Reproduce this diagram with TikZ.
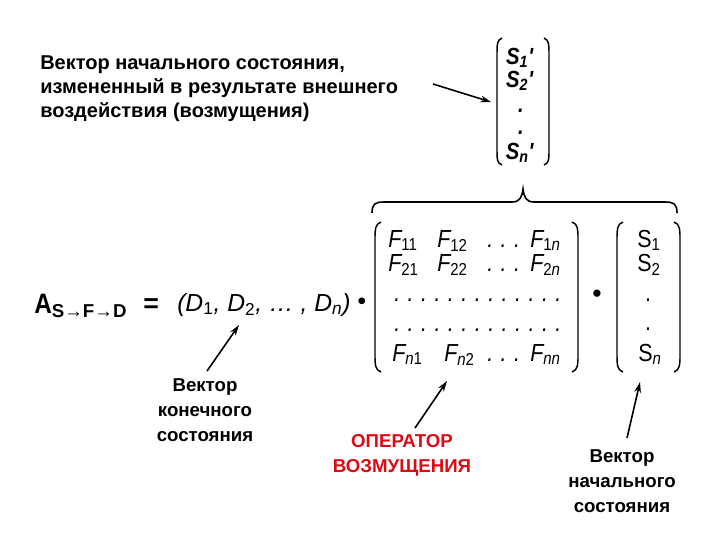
\documentclass[tikz,border=0pt]{standalone}
\usepackage{fontspec}
\setmainfont{Liberation Sans}
\newfontfamily\narrowsf[FakeStretch=0.87]{Liberation Sans}
\usetikzlibrary{arrows.meta,calc}
\definecolor{opred}{RGB}{220,10,20}
\newcommand{\dotrow}[1]{.\foreach \k in {2,...,#1}{\hspace{5.6pt}.}}
\begin{document}
\begin{tikzpicture}[x=0.75pt,y=-0.75pt,
  lbl/.style={font=\fontsize{14}{18.75}\selectfont\bfseries, align=center, inner sep=0pt},
  toplbl/.style={font=\fontsize{15}{18}\selectfont\bfseries, align=left, inner sep=0pt},
  ent/.style={font=\narrowsf\fontsize{18.5}{20}\selectfont\itshape, inner sep=0pt},
  upent/.style={font=\narrowsf\fontsize{18.5}{20}\selectfont, inner sep=0pt},
  topent/.style={font=\narrowsf\fontsize{17.5}{20}\selectfont\bfseries\itshape, inner sep=0pt},
  arr/.style={line width=1.2pt, -{Stealth[length=8pt,width=5pt]}},
  brk/.style={line width=1.1pt}]
\useasboundingbox (0,0) rectangle (720,540);
% top-left label
\node[toplbl, anchor=north west] (txtS) at (40,55)
  {Вектор начального состояния,\\измененный в результате внешнего\\воздействия (возмущения)};
% top vector
\node[topent, anchor=base] (t1) at (520,64) {S\textsubscript{1}\textquotesingle};
\node[topent, anchor=base] (t2) at (520,87) {S\textsubscript{2}\textquotesingle};
\node[topent, anchor=base] (t3) at (521,112) {.};
\node[topent, anchor=base] (t4) at (521,134) {.};
\node[topent, anchor=base] (t5) at (520,159) {S\textsubscript{\textit{n}}\textquotesingle};
\draw[brk] (502,38) .. controls (497,40) and (497,45) .. (497,52) -- (497,152) .. controls (497,159) and (497,163) .. (502,165);
\draw[brk] (544,38) .. controls (549,40) and (549,45) .. (549,52) -- (549,152) .. controls (549,159) and (549,163) .. (544,165);
\coordinate (a1s) at (433,84);
\coordinate (a1e) at (491,102);
\draw[arr] (a1s) -- (a1e);
% brace
\draw[line width=1.2pt] (372,213) .. controls (372,204) and (375,202) .. (384,202) -- (512,202)
  .. controls (520,202) and (522,197) .. (523,189) .. controls (524,197) and (526,202) .. (534,202)
  -- (665,202) .. controls (674,202) and (677,204) .. (677,213);
% main expression
\node[inner sep=0pt, anchor=base west, font=\narrowsf\fontsize{21}{22}\selectfont\bfseries] (A) at (34,313)
  {A\textsubscript{\rmfamily\bfseries\fontsize{14}{15}\selectfont S→F→D}};
\node[inner sep=0pt, anchor=base west, font=\fontsize{20}{20}\selectfont\bfseries] (eq) at (143,312) {=};
\node[inner sep=0pt, anchor=base west, font=\fontsize{18.5}{20}\selectfont\itshape] (dvec) at (177,311)
  {(D\textsubscript{\upshape 1}, D\textsubscript{\upshape 2}, …\ , D\textsubscript{n})\hspace{5pt}\raisebox{1pt}{•}};
% F matrix
\draw[brk] (381,222) .. controls (375,224) and (375,230) .. (375,238) -- (375,356) .. controls (375,364) and (375,370) .. (381,372);
\draw[brk] (572,222) .. controls (578,224) and (578,230) .. (578,238) -- (578,356) .. controls (578,364) and (578,370) .. (572,372);
\node[ent, anchor=base west] (f11) at (388,247) {F\textsubscript{\upshape 11}};
\node[ent, anchor=base west] (f12) at (437,247) {F\textsubscript{\upshape 12}};
\node[ent, anchor=base west] (f1d) at (487,247) {\dotrow{3}};
\node[ent, anchor=base west] (f1n) at (530,247) {F\textsubscript{\upshape 1\itshape n}};
\node[ent, anchor=base west] (f21) at (388,271) {F\textsubscript{\upshape 21}};
\node[ent, anchor=base west] (f22) at (437,271) {F\textsubscript{\upshape 22}};
\node[ent, anchor=base west] (f2d) at (487,271) {\dotrow{3}};
\node[ent, anchor=base west] (f2n) at (530,271) {F\textsubscript{\upshape 2\itshape n}};
\node[ent, anchor=base west] (fd1) at (394,301) {\dotrow{13}};
\node[ent, anchor=base west] (fd2) at (394,331) {\dotrow{13}};
\node[ent, anchor=base west] (fn1) at (392,361) {F\textsubscript{\itshape n\upshape 1}};
\node[ent, anchor=base west] (fn2) at (444,361) {F\textsubscript{\itshape n\upshape 2}};
\node[ent, anchor=base west] (fnd) at (487,361) {\dotrow{3}};
\node[ent, anchor=base west] (fnn) at (530,361) {F\textsubscript{\itshape nn}};
\node[upent, font=\fontsize{20}{20}\selectfont] (dot2) at (597,296) {•};
% S vector
\draw[brk] (623,222) .. controls (617,224) and (617,230) .. (617,238) -- (617,356) .. controls (617,364) and (617,370) .. (623,372);
\draw[brk] (674,222) .. controls (680,224) and (680,230) .. (680,238) -- (680,356) .. controls (680,364) and (680,370) .. (674,372);
\node[upent, anchor=base] (s1) at (649,247) {S\textsubscript{1}};
\node[upent, anchor=base] (s2) at (649,271) {S\textsubscript{2}};
\node[upent, anchor=base] (s3) at (648,301) {.};
\node[upent, anchor=base] (s4) at (648,330) {.};
\node[upent, anchor=base] (sn) at (650,361) {S\textsubscript{\itshape n}};
% bottom labels
\node[lbl, anchor=north] (lD) at (205,378) {Вектор\\конечного\\состояния};
\node[lbl, anchor=north, text=opred] (lF) at (402,434) {ОПЕРАТОР\\ВОЗМУЩЕНИЯ};
\node[lbl, anchor=north] (lS) at (622,449) {Вектор\\начального\\состояния};
\coordinate (a2s) at (207,371);
\coordinate (a2e) at (239,325);
\draw[arr] (a2s) -- (a2e);
\coordinate (a3s) at (415,428);
\coordinate (a3e) at (447,381);
\draw[arr] (a3s) -- (a3e);
\coordinate (a4s) at (627,438);
\coordinate (a4e) at (640,382);
\draw[arr] (a4s) -- (a4e);
\end{tikzpicture}
\end{document}
